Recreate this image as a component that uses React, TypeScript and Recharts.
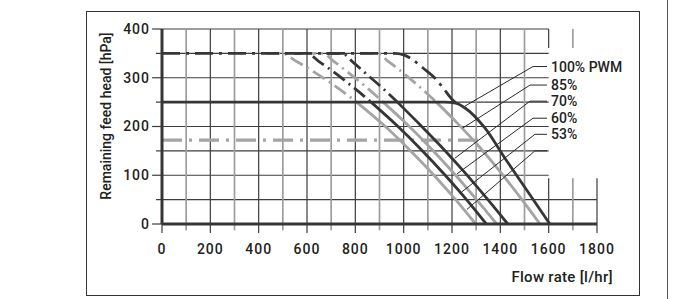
import React from 'react';
import { LineChart, Line, XAxis, YAxis, ReferenceLine } from 'recharts';

// ---------- axis / grid values ----------
const xTickLabels = [0, 200, 400, 600, 800, 1000, 1200, 1400, 1600, 1800];
const xMinorTicks = [100, 300, 500, 700, 900, 1100, 1300, 1500, 1700];
const yTickLabels = [0, 100, 200, 300, 400];
const yMinorTicks = [50, 150, 250, 350];
const gridHeads = [50, 100, 150, 200, 250, 300, 350, 400];
const gridFlowsFull = [100, 200, 300, 400, 500, 600, 700, 800, 900, 1000, 1100, 1200, 1300, 1400, 1500];
const gridFlowsShort = [1600, 1700, 1800];
const gridFlowsTop = [1600, 1700];

// ---------- curves (flow l/hr, head hPa) ----------
// grey 172 hPa limit (dash-dot)
const limitGreyFlow = [0, 1330];
const limitGreyHead = [172, 172];

// unlabeled grey curve
const g1DashFlow = [430, 495, 555, 625, 705, 805];
const g1DashHead = [350, 350, 334, 313, 287, 250];
const g1SolidFlow = [805, 915, 1025, 1135, 1215, 1298];
const g1SolidHead = [250, 204, 152, 95, 50, 0];

// 53 %
const d2DashFlow = [520, 600, 650, 710, 785, 865];
const d2DashHead = [350, 350, 333, 312, 283, 250];
const d2SolidFlow = [865, 970, 1070, 1170, 1260, 1342];
const d2SolidHead = [250, 203, 154, 101, 50, 0];

// 60 %
const g3DashFlow = [580, 665, 715, 775, 845, 915];
const g3DashHead = [350, 350, 332, 309, 281, 250];
const g3SolidFlow = [915, 1015, 1115, 1215, 1305, 1385];
const g3SolidHead = [250, 204, 154, 100, 48, 0];

// 70 %
const d4DashFlow = [680, 745, 790, 845, 910, 974];
const d4DashHead = [350, 350, 332, 308, 280, 250];
const d4SolidFlow = [974, 1065, 1155, 1245, 1345, 1431];
const d4SolidHead = [250, 205, 159, 110, 52, 0];

// 85 %
const g5DashFlow = [820, 890, 935, 990, 1060, 1135];
const g5DashHead = [350, 350, 334, 313, 284, 250];
const g5SolidFlow = [1135, 1220, 1310, 1400, 1480, 1564];
const g5SolidHead = [250, 208, 160, 107, 56, 0];

// 100 % PWM
const d6DashFlow = [0, 960, 1000, 1040, 1080, 1130, 1165, 1200, 1215];
const d6DashHead = [350, 350, 347, 336, 320, 299, 278, 256, 249];
const d6SolidFlow = [0, 1170, 1215, 1254, 1336, 1419, 1514, 1605];
const d6SolidHead = [250, 250, 248, 238, 197, 135, 66, 0];

// ---------- labels & leaders ----------
const pwmLabels = ['100% PWM', '85%', '70%', '60%', '53%', ''];
const leaderEndFlow = [1254, 1245, 1212, 1221, 1241, 1262];
const leaderEndHead = [242, 197, 135, 103, 66, 30];
const leaderKneeFlow = [1535, 1523, 1523, 1535, 1543, 1543];
const leaderHead = [323, 285, 252, 217, 184, 150];
const leaderStubEnd = 1593;

const DARK = '#363636';
const GREY = '#a4a4a4';
const GRID_DARK = '#3c3c3c';
const GRID_GREY = '#9d9d9d';

const pts = (flows: number[], heads: number[]) => flows.map((x, i) => ({ x, y: heads[i] }));

// layout
const CHART_W = 682;
const CHART_H = 299;
const MARGIN = { top: 29, right: 85, bottom: 45, left: 102 };
const Y_AXIS_W = 60;
const X_AXIS_H = 30;
const plotX0 = MARGIN.left + Y_AXIS_W;
const plotY0 = MARGIN.top;
const plotW = CHART_W - MARGIN.right - plotX0;
const plotH = CHART_H - MARGIN.bottom - X_AXIS_H - plotY0;
const fx = (f: number) => plotX0 + (f / 1800) * plotW;
const fy = (h: number) => plotY0 + plotH - (h / 400) * plotH;

const common = { dot: false, activeDot: false, isAnimationActive: false, legendType: 'none' as const };

export default function App() {
  const gridLines: React.ReactNode[] = [];
  gridHeads.forEach((h) => {
    const end = h <= 50 ? 1800 : 1600;
    gridLines.push(
      <Line key={`gh${h}`} {...common} type="linear" data={pts([0, end], [h, h])} dataKey="y" stroke={GRID_DARK} strokeWidth={1.2} />
    );
  });
  gridFlowsFull.forEach((f) => {
    gridLines.push(
      <Line key={`gv${f}`} {...common} type="linear" data={pts([f, f], [0, 400])} dataKey="y"
        stroke={f % 200 === 0 ? GRID_DARK : GRID_GREY} strokeWidth={f % 200 === 0 ? 1.2 : 1.7} />
    );
  });
  gridFlowsShort.forEach((f) => {
    gridLines.push(
      <Line key={`gvs${f}`} {...common} type="linear" data={pts([f, f], [0, 94])} dataKey="y"
        stroke={f % 200 === 0 ? GRID_DARK : GRID_GREY} strokeWidth={f % 200 === 0 ? 1.2 : 1.7} />
    );
  });
  gridFlowsTop.forEach((f) => {
    gridLines.push(
      <Line key={`gvt${f}`} {...common} type="linear" data={pts([f, f], [361, 400])} dataKey="y"
        stroke={f % 200 === 0 ? GRID_DARK : GRID_GREY} strokeWidth={f % 200 === 0 ? 1.2 : 1.7} />
    );
  });

  const ticks: React.ReactNode[] = [];
  xTickLabels.forEach((f) => ticks.push(
    <ReferenceLine key={`xt${f}`} ifOverflow="visible" segment={[{ x: f, y: 0 }, { x: f, y: -18.5 }]} stroke={GRID_DARK} strokeWidth={1.2} />
  ));
  xMinorTicks.forEach((f) => ticks.push(
    <ReferenceLine key={`xm${f}`} ifOverflow="visible" segment={[{ x: f, y: 0 }, { x: f, y: -13 }]} stroke={GRID_GREY} strokeWidth={1.7} />
  ));
  yTickLabels.forEach((h) => ticks.push(
    <ReferenceLine key={`yt${h}`} ifOverflow="visible" segment={[{ x: -41, y: h }, { x: 0, y: h }]} stroke={GRID_DARK} strokeWidth={1.2} />
  ));
  yMinorTicks.forEach((h) => ticks.push(
    <ReferenceLine key={`ym${h}`} ifOverflow="visible" segment={[{ x: -25, y: h }, { x: 0, y: h }]} stroke={GRID_DARK} strokeWidth={1.2} />
  ));

  const dashCurve = '14 5 2 5';
  const greyCurves = [
    [g1DashFlow, g1DashHead, g1SolidFlow, g1SolidHead],
    [g3DashFlow, g3DashHead, g3SolidFlow, g3SolidHead],
    [g5DashFlow, g5DashHead, g5SolidFlow, g5SolidHead],
  ];
  const darkCurves = [
    [d2DashFlow, d2DashHead, d2SolidFlow, d2SolidHead],
    [d4DashFlow, d4DashHead, d4SolidFlow, d4SolidHead],
    [d6DashFlow, d6DashHead, d6SolidFlow, d6SolidHead],
  ];

  const font = 'Roboto, "DejaVu Sans", sans-serif';

  return (
    <div style={{ position: 'absolute', left: 0, top: 0, width: CHART_W, height: CHART_H, overflow: 'hidden', background: '#fff' }}>
      <div style={{ position: 'absolute', left: 86, top: 11, width: 554, height: 285, border: '1.5px solid #333', boxSizing: 'border-box' }} />
      <div style={{ position: 'absolute', left: 667, top: 0, width: 0, height: CHART_H, borderLeft: '1.2px solid #555' }} />
      <div style={{ position: 'absolute', left: 0, top: 0 }}>
        <LineChart width={CHART_W} height={CHART_H} margin={MARGIN}>
          <XAxis type="number" dataKey="x" domain={[0, 1800]} ticks={xTickLabels} interval={0}
            height={X_AXIS_H} tickLine={false} tickSize={10} tickMargin={10}
            axisLine={{ stroke: DARK, strokeWidth: 3 }}
            tick={{ fill: '#222', fontSize: 14, fontFamily: font, fontWeight: 500, letterSpacing: 1 }} />
          <YAxis type="number" dataKey="y" domain={[0, 400]} ticks={yTickLabels} interval={0}
            width={Y_AXIS_W} tickLine={false} tickSize={10} tickMargin={2}
            axisLine={{ stroke: DARK, strokeWidth: 3 }}
            tick={{ fill: '#222', fontSize: 14, fontFamily: font, fontWeight: 500, letterSpacing: 1 }} />
          {ticks}
          {gridLines}
          <Line {...common} type="linear" data={pts(limitGreyFlow, limitGreyHead)} dataKey="y" stroke={GREY} strokeWidth={3.2} strokeDasharray="20 7 3 7" />
          {greyCurves.map((c, i) => (
            <Line key={`gd${i}`} {...common} type="monotone" data={pts(c[0], c[1])} dataKey="y" stroke={GREY} strokeWidth={2.8} strokeDasharray={dashCurve} />
          ))}
          {greyCurves.map((c, i) => (
            <Line key={`gs${i}`} {...common} type="monotone" data={pts(c[2], c[3])} dataKey="y" stroke={GREY} strokeWidth={2.8} />
          ))}
          {darkCurves.map((c, i) => (
            <Line key={`dd${i}`} {...common} type="monotone" data={pts(c[0], c[1])} dataKey="y" stroke={DARK} strokeWidth={2.8}
              strokeDasharray={i === 2 ? '18 6 3 6' : dashCurve} />
          ))}
          {darkCurves.map((c, i) => (
            <Line key={`ds${i}`} {...common} type="monotone" data={pts(c[2], c[3])} dataKey="y" stroke={DARK} strokeWidth={2.8} />
          ))}
          {pwmLabels.map((_, i) => (
            <Line key={`ld${i}`} {...common} type="linear"
              data={pts([leaderEndFlow[i], leaderKneeFlow[i], leaderStubEnd], [leaderEndHead[i], leaderHead[i], leaderHead[i]])}
              dataKey="y" stroke="#2a2a2a" strokeWidth={1} />
          ))}
          {pwmLabels.map((t, i) => t ? (
            <text key={`lt${i}`} x={fx(leaderStubEnd) + 4} y={fy(leaderHead[i]) + 5} fontFamily={font} fontWeight={500} fontSize={14} fill="#222">{t}</text>
          ) : null)}
          <text x={110.5} y={116} transform="rotate(-90, 110.5, 116)" textAnchor="middle" fontFamily={font} fontWeight={500} fontSize={14} fill="#222">Remaining feed head [hPa]</text>
          <text x={613} y={282} textAnchor="end" fontFamily={font} fontWeight={500} fontSize={15} letterSpacing={0.3} fill="#222">Flow rate [l/hr]</text>
        </LineChart>
      </div>
    </div>
  );
}
